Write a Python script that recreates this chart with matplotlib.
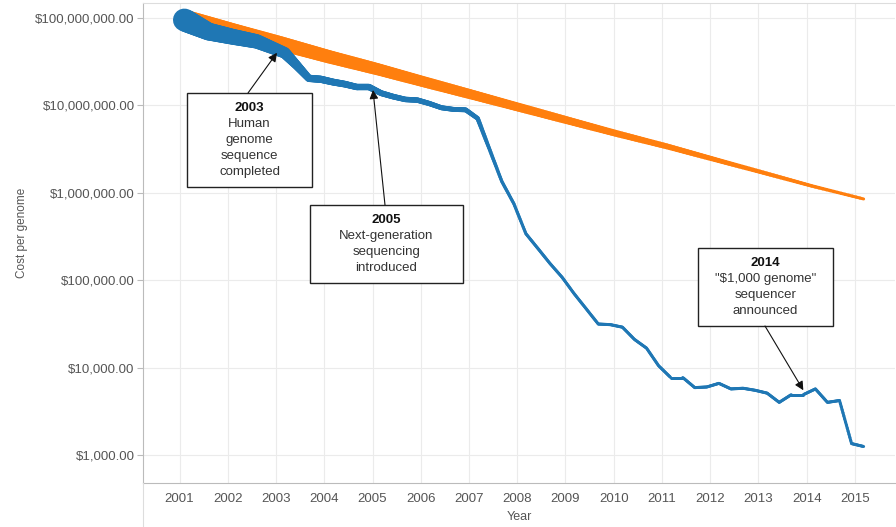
import matplotlib.pyplot as plt
import numpy as np
from matplotlib.collections import LineCollection
from matplotlib.lines import Line2D
from matplotlib.ticker import FuncFormatter

plt.rcParams['font.family'] = ['Liberation Sans', 'DejaVu Sans']

# cost per genome (blue)
seq_year = [2001.10, 2001.60, 2002.10, 2002.60, 2003.18, 2003.43, 2003.68, 2003.93,
            2004.18, 2004.43, 2004.68, 2004.93, 2005.18, 2005.43, 2005.68, 2005.93,
            2006.18, 2006.43, 2006.68, 2006.93, 2007.18, 2007.43, 2007.68, 2007.93,
            2008.18, 2008.43, 2008.68, 2008.93, 2009.18, 2009.43, 2009.68, 2009.93,
            2010.18, 2010.43, 2010.68, 2010.93, 2011.18, 2011.43, 2011.68, 2011.93,
            2012.18, 2012.43, 2012.68, 2012.93, 2013.18, 2013.43, 2013.68, 2013.93,
            2014.18, 2014.43, 2014.68, 2014.93, 2015.18]
seq_cost = [95000000, 70000000, 61000000, 54000000, 40000000, 28800000, 20400000, 19900000,
            18500000, 17500000, 16200000, 16200000, 13800000, 12600000, 11700000, 11500000,
            10500000, 9400000, 9000000, 8900000, 7100000, 3100000, 1350000, 750000,
            340000, 230000, 155000, 108000, 70000, 47000, 31500, 31000,
            29000, 21000, 16700, 10500, 7700, 7700, 5900, 6000,
            6600, 5700, 5800, 5500, 5100, 4000, 4900, 4900,
            5700, 4000, 4200, 1350, 1250]

# Moore's law reference (orange)
moore_year = [2001.10, 2002.10, 2003.10, 2004.10, 2005.10, 2006.10, 2007.10, 2008.10,
              2009.10, 2010.10, 2011.10, 2012.10, 2013.10, 2014.10, 2015.18]
moore_cost = [100000000, 71000000, 51000000, 36000000, 26000000, 18400000, 13100000, 9300000,
              6600000, 4700000, 3400000, 2400000, 1700000, 1200000, 850000]

years = list(range(2001, 2016))
yticks = [1e3, 1e4, 1e5, 1e6, 1e7, 1e8]

notes = [
    ('2003', ['Human', 'genome', 'sequence', 'completed']),
    ('2005', ['Next-generation', 'sequencing', 'introduced']),
    ('2014', ['"$1,000 genome"', 'sequencer', 'announced']),
]
note_xy = [(2003.02, 40000000), (2005.01, 15000000), (2013.93, 5500)]

BLUE = '#1f77b4'
ORANGE = '#ff7f0e'
W, H = 896, 527
L, R, T, B = 143, 895, 3, 483


def tapered(ax, x, y, w_px, color, z, n=14):
    ly = np.log10(y)
    segs, lws = [], []
    for i in range(len(x) - 1):
        for k in range(n):
            t0, t1 = k / n, (k + 1) / n
            xa = x[i] + (x[i + 1] - x[i]) * t0
            xb = x[i] + (x[i + 1] - x[i]) * t1
            ya = 10 ** (ly[i] + (ly[i + 1] - ly[i]) * t0)
            yb = 10 ** (ly[i] + (ly[i + 1] - ly[i]) * t1)
            segs.append([(xa, ya), (xb, yb)])
            lws.append((w_px[i] + (w_px[i + 1] - w_px[i]) * (t0 + t1) / 2) * 0.72)
    lc = LineCollection(segs, linewidths=lws, colors=color, capstyle='round',
                        joinstyle='round', zorder=z)
    ax.add_collection(lc)


fig = plt.figure(figsize=(W / 100, H / 100), dpi=100)
ax = fig.add_axes([L / W, 1 - B / H, (R - L) / W, (B - T) / H])
ax.set_yscale('log')
ax.set_xlim(2000.243, 2015.83)
ax.set_ylim(478, 1.485e8)

ax.set_xticks(years)
ax.set_xticklabels([str(y) for y in years])
ax.set_yticks(yticks)
ax.yaxis.set_major_formatter(FuncFormatter(lambda v, p: f'${v:,.2f}'))
ax.minorticks_off()
ax.tick_params(axis='x', length=0, pad=7, labelsize=9.5, labelcolor='#555555')
ax.tick_params(axis='y', length=4, width=0.8, color='#bbbbbb', pad=2,
               labelsize=9.5, labelcolor='#555555')
ax.grid(True, color='#ebebeb', linewidth=0.8)
ax.set_axisbelow(True)
for s in ['left', 'bottom']:
    ax.spines[s].set_color('#bbbbbb')
    ax.spines[s].set_linewidth(0.8)
ax.spines['top'].set_color('#dddddd')
ax.spines['top'].set_linewidth(0.8)
ax.spines['right'].set_visible(False)
fig.add_artist(Line2D([L / W, L / W], [0, 1 - B / H], color='#dddddd', lw=0.8,
                      transform=fig.transFigure))

# line widths encode cost
mc = np.array(moore_cost, dtype=float)
sc = np.array(seq_cost, dtype=float)
orange_w = 3 + 14 * np.clip((np.log10(mc) - 5.93) / 2.07, 0, None) ** 1.3
blue_w = 3 + 2.1e-7 * sc
tapered(ax, moore_year, moore_cost, orange_w, ORANGE, 3)
tapered(ax, seq_year, seq_cost, blue_w, BLUE, 4)

fig.text(22 / W, 1 - 233 / H, 'Cost per genome', rotation=90, ha='center', va='center',
         fontsize=8.5, color='#555555')
fig.text((L + R) / 2 / W, 1 - 517 / H, 'Year', ha='center', va='center',
         fontsize=9, color='#555555')

# annotation boxes in pixel positions
boxes = [(187, 93, 312, 187, 108), (310, 205, 463, 283, 220), (698, 248, 833, 326, 263)]
arrow_from = [(248, 93), (385, 205), (765, 326)]


def fx(px):
    return (px - L) / (R - L)


def fy(py):
    return (B - py) / (B - T)


for (title, lines), (x0, y0, x1, y1, ty), xy, (ax_px, ay_px) in zip(notes, boxes, note_xy, arrow_from):
    ax.add_patch(plt.Rectangle((fx(x0), fy(y1)), fx(x1) - fx(x0), fy(y0) - fy(y1),
                               transform=ax.transAxes, facecolor='white',
                               edgecolor='#222222', lw=1.0, zorder=6))
    cx = fx((x0 + x1) / 2)
    ax.text(cx, fy(ty), title, transform=ax.transAxes, ha='center', va='center',
            fontsize=9.5, fontweight='bold', color='#111111', zorder=7)
    for i, ln in enumerate(lines):
        ax.text(cx, fy(ty + 16 * (i + 1)), ln, transform=ax.transAxes, ha='center',
                va='center', fontsize=9.5, color='#333333', zorder=7)
    ax.annotate('', xy=xy, xycoords='data', xytext=(fx(ax_px), fy(ay_px)),
                textcoords='axes fraction',
                arrowprops=dict(arrowstyle='-|>', color='#111111', lw=0.8,
                                mutation_scale=13, shrinkA=0, shrinkB=0), zorder=8)

fig.savefig('out.png', dpi=100)
